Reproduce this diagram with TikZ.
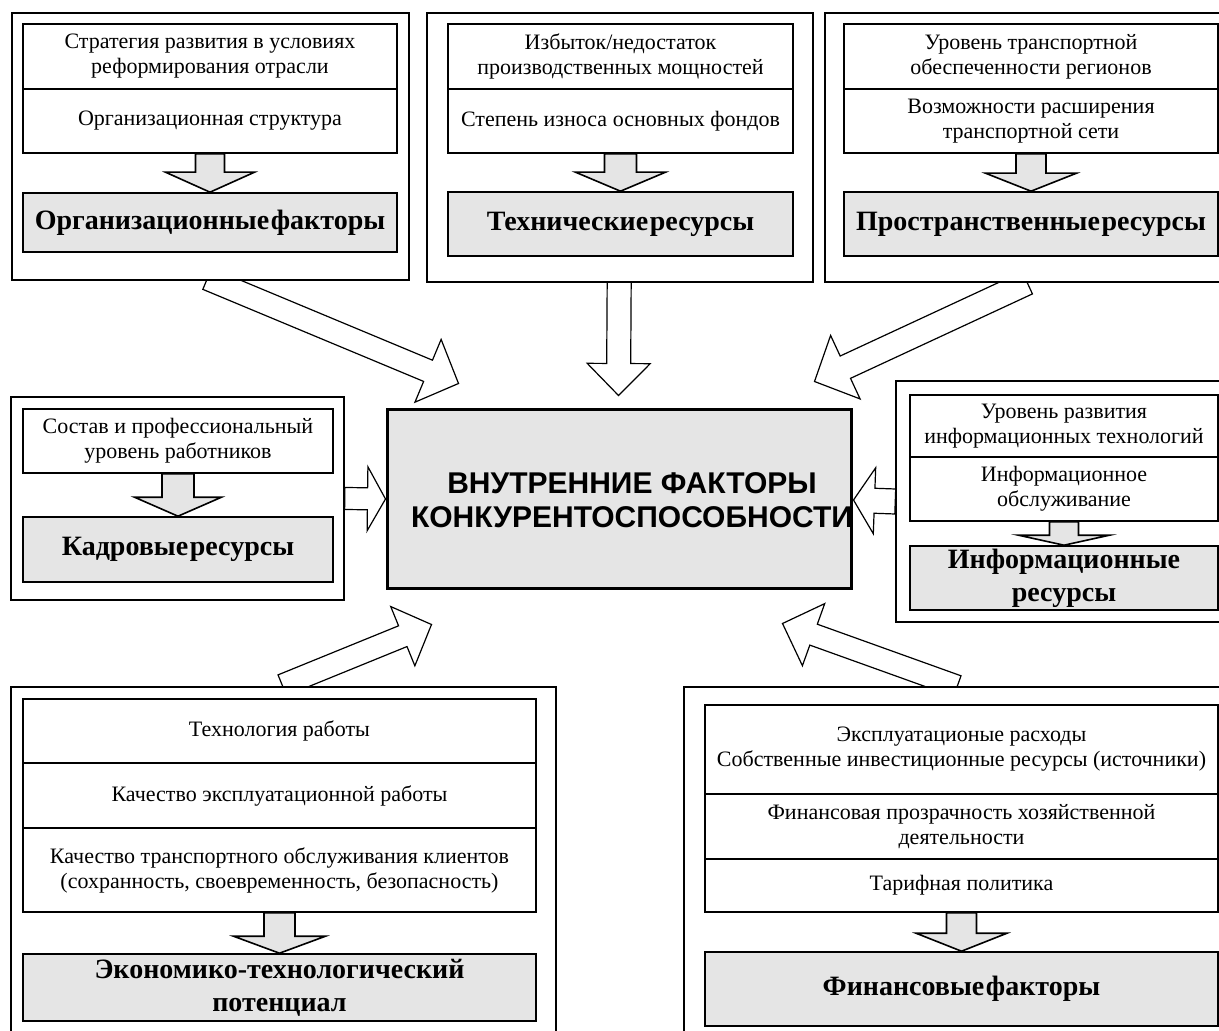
\documentclass[tikz,border=0pt]{standalone}
\usepackage{fontspec}
\setmainfont{Liberation Serif}
\newfontfamily\headfont{Liberation Sans}
\usetikzlibrary{calc,fit,backgrounds}

% bold text of the grey boxes, with tight word spacing
\newcommand\boldcellfont{\fontsize{14}{16.5}\selectfont\bfseries\spaceskip=0.06em\relax}

% hollow block arrow from #2 to #3: half shaft #4, half head #5, head length #6 (px)
\newcommand\blockarrow[6][]{%
  \coordinate (ba-a) at #2;
  \coordinate (ba-b) at #3;
  \coordinate (ba-n) at ($(ba-b)!{#6*0.5pt}!(ba-a)$);
  \filldraw[#1] ($(ba-a)!{#4*0.5pt}!90:(ba-b)$) -- ($(ba-n)!{#4*0.5pt}!90:(ba-b)$)
    -- ($(ba-n)!{#5*0.5pt}!90:(ba-b)$) -- (ba-b)
    -- ($(ba-n)!{#5*0.5pt}!-90:(ba-b)$) -- ($(ba-n)!{#4*0.5pt}!-90:(ba-b)$)
    -- ($(ba-a)!{#4*0.5pt}!-90:(ba-b)$) -- cycle;
}

\begin{document}
\begin{tikzpicture}[x=0.5pt, y=-0.5pt,
    outer/.style={draw, fill=white, line width=0.75pt, inner sep=0pt},
    cell/.style={draw, fill=white, line width=0.8pt, inner sep=0pt, align=center,
      font=\fontsize{11}{12.5}\selectfont},
    graycell/.style={cell, fill=gray!20, font=\boldcellfont},
    bigarrow/.style={draw, fill=white, line width=0.6pt, line join=miter},
    smallarrow/.style={draw, fill=gray!20, line width=0.8pt, line join=miter}]
    \useasboundingbox (0,0) rectangle (1219,1031);
    \clip (0,0) rectangle (1219,1031);

    % outer frames
    \node[outer, fit={(12,13) (409,280)}] (orgbox) {};
    \node[outer, fit={(427,13) (813,282)}] (techbox) {};
    \node[outer, fit={(825,13) (1230,282)}] (spacebox) {};
    \node[outer, fit={(11,397) (344,600)}] (kadrbox) {};
    \node[outer, fit={(896,381) (1230,622)}] (infobox) {};
    \node[outer, fit={(11,687) (556,1040)}] (econbox) {};
    \node[outer, fit={(684,687) (1230,1040)}] (finbox) {};

    % central block
    \node[draw, fill=gray!20, line width=1.5pt, inner sep=0pt, fit={(387,410) (851,588)}] (core) {};
    \node[font=\fontsize{15}{17}\selectfont\headfont\bfseries, align=center] (coretxt) at (632,500)
      {ВНУТРЕННИЕ ФАКТОРЫ\\КОНКУРЕНТОСПОСОБНОСТИ};

    % Organizational factors
    \node[cell, minimum width=187pt, minimum height=32.5pt] (org1) at (210,56.5) {Стратегия развития в условиях\\реформирования отрасли};
    \node[cell, minimum width=187pt, minimum height=32pt] (org2) at (210,121) {Организационная структура};
    \node[graycell, minimum width=187pt, minimum height=29.5pt] (orggray) at (210,222.5) {Организационные факторы};

    % Technical resources
    \node[cell, minimum width=172.5pt, minimum height=32.5pt] (tech1) at (620.5,56.5) {Избыток/недостаток\\производственных мощностей};
    \node[cell, minimum width=172.5pt, minimum height=32pt] (tech2) at (620.5,121) {Степень износа основных фондов};
    \node[graycell, minimum width=172.5pt, minimum height=32pt] (techgray) at (620.5,224) {Технические ресурсы};

    % Spatial resources
    \node[cell, minimum width=187pt, minimum height=32.5pt] (space1) at (1031,56.5) {Уровень транспортной\\обеспеченности регионов};
    \node[cell, minimum width=187pt, minimum height=32pt] (space2) at (1031,121) {Возможности расширения\\транспортной сети};
    \node[graycell, minimum width=187pt, minimum height=32pt] (spacegray) at (1031,224) {Пространственные ресурсы};

    % Personnel
    \node[cell, minimum width=155pt, minimum height=32pt] (kadr1) at (178,441) {Состав и профессиональный\\уровень работников};
    \node[graycell, minimum width=155pt, minimum height=32.5pt] (kadrgray) at (178,549.5) {Кадровые ресурсы};

    % Information
    \node[cell, minimum width=154pt, minimum height=31pt] (info1) at (1064,426) {Уровень развития\\информационных технологий};
    \node[cell, minimum width=154pt, minimum height=32pt] (info2) at (1064,489) {Информационное\\обслуживание};
    \node[graycell, minimum width=154pt, minimum height=32pt] (infogray) at (1064,578) {Информационные\\ресурсы};

    % Economic-technological potential
    \node[cell, minimum width=256.5pt, minimum height=32pt] (econ1) at (279.5,731) {Технология работы};
    \node[cell, minimum width=256.5pt, minimum height=32.5pt] (econ2) at (279.5,795.5) {Качество эксплуатационной работы};
    \node[cell, minimum width=256.5pt, minimum height=42pt] (econ3) at (279.5,870) {Качество транспортного обслуживания клиентов\\(сохранность, своевременность, безопасность)};
    \node[graycell, minimum width=256.5pt, minimum height=33.5pt] (econgray) at (279.5,987.5) {Экономико-технологический\\потенциал};

    % Financial factors
    \node[cell, minimum width=256.5pt, minimum height=44.5pt] (fin1) at (961.5,749.5) {Эксплуатационые расходы\\Собственные инвестиционные ресурсы (источники)};
    \node[cell, minimum width=256.5pt, minimum height=32.5pt] (fin2) at (961.5,826.5) {Финансовая прозрачность хозяйственной\\деятельности};
    \node[cell, minimum width=256.5pt, minimum height=26.5pt] (fin3) at (961.5,885.5) {Тарифная политика};
    \node[graycell, minimum width=256.5pt, minimum height=37pt] (fingray) at (961.5,989) {Финансовые факторы};

    % small arrows inside the frames
    \blockarrow[smallarrow]{(org2.south)}{(orggray.north)}{14.5}{44.5}{20}
    \blockarrow[smallarrow]{(tech2.south)}{(techgray.north)}{16}{45}{19}
    \blockarrow[smallarrow]{(space2.south)}{(spacegray.north)}{15}{45.5}{18}
    \blockarrow[smallarrow]{(kadr1.south)}{(kadrgray.north)}{16}{43.5}{19}
    \blockarrow[smallarrow]{(info2.south)}{(infogray.north)}{14.5}{45.5}{10}
    \blockarrow[smallarrow]{(econ3.south)}{(econgray.north)}{15.5}{46}{17}
    \blockarrow[smallarrow]{(fin3.south)}{(fingray.north)}{15}{45.5}{18}

    % big arrows to the central block
    \begin{pgfonlayer}{background}
    \blockarrow[bigarrow]{($(orgbox.south west)+(196,-2)$)}{($(core.north west)+(73,-25)$)}{11.5}{34}{33}
    \blockarrow[bigarrow]{($(techbox.south west)+(193,-12)$)}{($(core.north west)+(233,-13)$)}{12}{31.5}{32}
    \blockarrow[bigarrow]{($(spacebox.south west)+(203,0)$)}{($(core.north east)+(-38,-27)$)}{12.3}{35}{34}
    \blockarrow[bigarrow]{(kadrbox.east)}{(core.west)}{11}{32}{18}
    \blockarrow[bigarrow]{(infobox.west)}{($(core.east)+(1,1)$)}{12.5}{33}{21}
    \blockarrow[bigarrow]{($(econbox.north west)+(272,-1)$)}{($(core.south west)+(46,35)$)}{11.2}{32}{31}
    \blockarrow[bigarrow]{($(finbox.north west)+(274,0)$)}{($(core.south east)+(-70,34)$)}{11.1}{33}{33}
    \end{pgfonlayer}
\end{tikzpicture}
\end{document}
